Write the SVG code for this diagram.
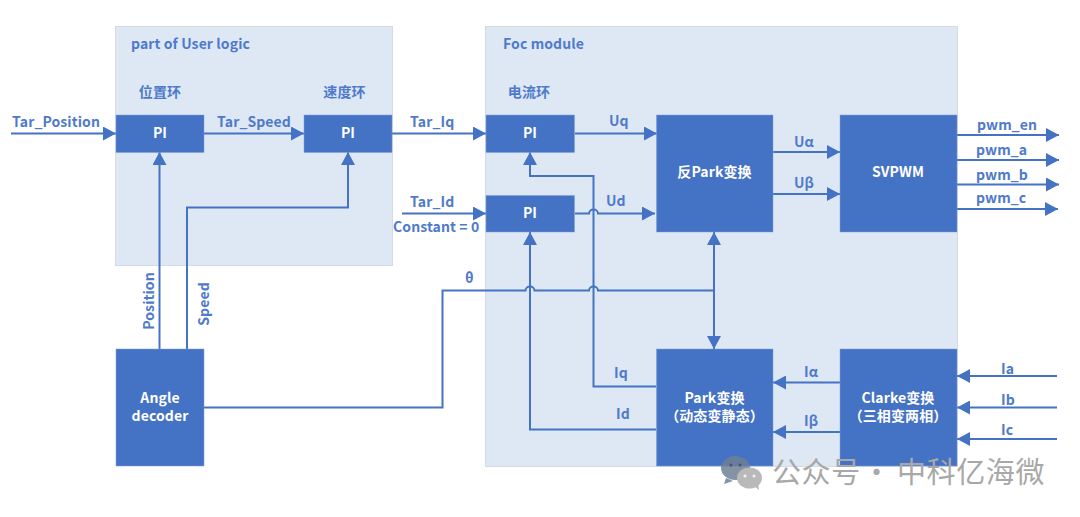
<svg xmlns="http://www.w3.org/2000/svg" width="1080" height="517" viewBox="0 0 1080 517">
<style>
text{font-family:"Noto Sans CJK SC","Noto Sans",sans-serif;font-weight:700;font-size:14px;letter-spacing:.1px}
.l{fill:#4f7acb}
.w{fill:#fff;text-anchor:middle}
.m{text-anchor:middle}
.c{fill:none;stroke:#4472c4;stroke-width:2}
.b{fill:#4472c4;stroke:#7f9fd6;stroke-width:.5}
.g{fill:#dee8f4;stroke:#d3dbe6;stroke-width:1}
</style>
<defs>
<marker id="a" markerUnits="userSpaceOnUse" markerWidth="14" markerHeight="14" refX="13" refY="7" orient="auto-start-reverse"><path d="M0 0L13 7L0 14Z" fill="#4472c4"/></marker>
</defs>
<g id="group-user"><rect class="g" x="115.500" y="26.500" width="277" height="239"/><text class="l" x="131" y="49">part of User logic</text><text class="l m" x="160" y="97">位置环</text><text class="l m" x="344.500" y="97">速度环</text></g>
<g id="group-foc"><rect class="g" x="485.500" y="26.500" width="472" height="440"/><text class="l" x="503" y="49">Foc module</text><text class="l m" x="529" y="97">电流环</text></g>
<g id="connectors">
<path class="c" marker-end="url(#a)" d="M11 133.500H116"/>
<path class="c" marker-end="url(#a)" d="M204 133.500H304"/>
<path class="c" marker-end="url(#a)" d="M392 133.500H486"/>
<path class="c" marker-end="url(#a)" d="M575 133.500H657"/>
<path class="c" marker-end="url(#a)" d="M402 213.500H486"/>
<path class="c" marker-end="url(#a)" d="M575 213.500H589a4.500 4 0 0 1 9 0H655"/>
<path class="c" marker-end="url(#a)" d="M656 386.500H593.500V176H530V152"/>
<path class="c" marker-end="url(#a)" d="M656 429.500H530V232"/>
<path class="c" d="M204 407.500H442.500V290.500H525.500a4.500 4 0 0 1 9 0H589a4.500 4 0 0 1 9 0H714"/>
<path class="c" marker-start="url(#a)" marker-end="url(#a)" d="M714 232V349"/>
<path class="c" marker-end="url(#a)" d="M159.500 349V152"/>
<path class="c" marker-end="url(#a)" d="M187 349V207.500H348V152"/>
<path class="c" marker-end="url(#a)" d="M773 152H840"/>
<path class="c" marker-end="url(#a)" d="M773 194H840"/>
<path class="c" marker-end="url(#a)" d="M840 382.500H773"/>
<path class="c" marker-end="url(#a)" d="M840 432H773"/>
<path class="c" marker-end="url(#a)" d="M1057 376H957"/>
<path class="c" marker-end="url(#a)" d="M1057 407.500H957"/>
<path class="c" marker-end="url(#a)" d="M1057 439H957"/>
<path class="c" marker-end="url(#a)" d="M957 135H1059"/>
<path class="c" marker-end="url(#a)" d="M957 160H1059"/>
<path class="c" marker-end="url(#a)" d="M957 184.500H1059"/>
<path class="c" marker-end="url(#a)" d="M957 209H1058"/>
</g>
<g id="labels">
<text class="l" x="12" y="127">Tar_Position</text>
<text class="l" x="217" y="127">Tar_Speed</text>
<text class="l" x="410" y="127">Tar_Iq</text>
<text class="l" x="410" y="207">Tar_Id</text>
<text class="l" x="393" y="232">Constant = 0</text>
<text class="l" x="609" y="126">Uq</text>
<text class="l" x="606" y="206">Ud</text>
<text class="l" x="465" y="283">θ</text>
<text class="l" x="794" y="147">Uα</text>
<text class="l" x="794" y="188">Uβ</text>
<text class="l" x="614" y="378">Iq</text>
<text class="l" x="616" y="419">Id</text>
<text class="l" x="804" y="377">Iα</text>
<text class="l" x="804" y="426">Iβ</text>
<text class="l" x="1001" y="374">Ia</text>
<text class="l" x="1001" y="405">Ib</text>
<text class="l" x="1001" y="435">Ic</text>
<text class="l" x="977" y="130">pwm_en</text>
<text class="l" x="976" y="155">pwm_a</text>
<text class="l" x="976" y="180">pwm_b</text>
<text class="l" x="976" y="203">pwm_c</text>
<text class="l" text-anchor="middle" transform="translate(154 301) rotate(-90)">Position</text>
<text class="l" text-anchor="middle" transform="translate(209 304) rotate(-90)">Speed</text>
</g>
<g id="pi-position"><rect class="b" x="116" y="115" width="88" height="37.500"/><text class="w" x="160" y="138">PI</text></g>
<g id="pi-speed"><rect class="b" x="304" y="115" width="88" height="37.500"/><text class="w" x="348" y="138">PI</text></g>
<g id="pi-iq"><rect class="b" x="486" y="115" width="88.500" height="37.500"/><text class="w" x="530" y="138">PI</text></g>
<g id="pi-id"><rect class="b" x="486" y="195.500" width="88.500" height="36.500"/><text class="w" x="530" y="218">PI</text></g>
<g id="inv-park"><rect class="b" x="656.500" y="115" width="116.500" height="117"/><text class="w" x="714.500" y="177">反Park变换</text></g>
<g id="svpwm"><rect class="b" x="840" y="115" width="117" height="117"/><text class="w" x="898" y="177">SVPWM</text></g>
<g id="park"><rect class="b" x="656.500" y="349" width="116.500" height="117"/><text class="w" x="714.500" y="403">Park变换</text><text class="w" x="714.500" y="420.500">（动态变静态）</text></g>
<g id="clarke"><rect class="b" x="840" y="349" width="117" height="117"/><text class="w" x="898" y="403">Clarke变换</text><text class="w" x="898" y="420.500">（三相变两相）</text></g>
<g id="angle"><rect class="b" x="116" y="349" width="88" height="117"/><text class="w" x="160" y="403">Angle</text><text class="w" x="160" y="420.500">decoder</text></g>
<g id="watermark">
<ellipse cx="735.500" cy="468" rx="14.500" ry="12" fill="#6f7f95" fill-opacity=".85"/>
<path d="M726 478l-2 6 9-3z" fill="#6f7f95" fill-opacity=".85"/>
<circle cx="731" cy="465" r="1.500" fill="#4a5568"/><circle cx="740" cy="465" r="1.500" fill="#4a5568"/>
<ellipse cx="749.500" cy="478" rx="12.500" ry="10.500" fill="#b9b9b9"/>
<path d="M754 486l5 4-1-7z" fill="#b9b9b9"/>
<circle cx="745" cy="476" r="1.500" fill="#f2f2f2"/><circle cx="754" cy="476" r="1.500" fill="#f2f2f2"/>
<text y="483" style="font-size:29px;font-weight:400;letter-spacing:.6px;word-spacing:-6px" fill="#a8a8a8"><tspan x="772">公众号 · </tspan><tspan x="897">中科亿海微</tspan></text>
</g>
</svg>
